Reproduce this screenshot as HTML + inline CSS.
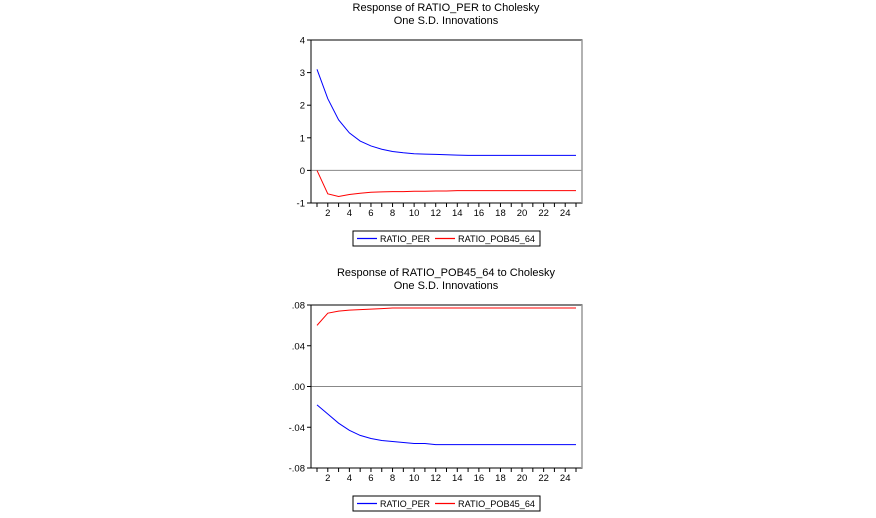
<!DOCTYPE html>
<html><head><meta charset="utf-8"><style>
body{margin:0;background:#fff;font-family:"Liberation Sans",sans-serif;}
svg{display:block}
text{font-family:"Liberation Sans",sans-serif;}
</style></head><body>
<svg id="svg" width="876" height="518"></svg>
<script>
const periods=[1,2,3,4,5,6,7,8,9,10,11,12,13,14,15,16,17,18,19,20,21,22,23,24,25];
const xTickLabels=[2,4,6,8,10,12,14,16,18,20,22,24];
const top_per=[3.1,2.2,1.55,1.15,0.9,0.75,0.65,0.58,0.54,0.51,0.5,0.49,0.48,0.47,0.46,0.46,0.46,0.46,0.46,0.46,0.46,0.46,0.46,0.46,0.46];
const top_pob=[0,-0.72,-0.8,-0.74,-0.7,-0.67,-0.66,-0.65,-0.65,-0.64,-0.64,-0.63,-0.63,-0.62,-0.62,-0.62,-0.62,-0.62,-0.62,-0.62,-0.62,-0.62,-0.62,-0.62,-0.62];
const topYTicks=[4,3,2,1,0,-1];
const topYLabels=["4","3","2","1","0","-1"];
const bot_per=[-0.018,-0.027,-0.036,-0.043,-0.048,-0.051,-0.053,-0.054,-0.055,-0.056,-0.056,-0.057,-0.057,-0.057,-0.057,-0.057,-0.057,-0.057,-0.057,-0.057,-0.057,-0.057,-0.057,-0.057,-0.057];
const bot_pob=[0.060,0.072,0.074,0.075,0.0755,0.076,0.0765,0.077,0.077,0.077,0.077,0.077,0.077,0.077,0.077,0.077,0.077,0.077,0.077,0.077,0.077,0.077,0.077,0.077,0.077];
const botYTicks=[0.08,0.04,0,-0.04,-0.08];
const botYLabels=[".08",".04",".00","-.04","-.08"];

const NS="http://www.w3.org/2000/svg";
const svg=document.getElementById('svg');
function mk(t,a,p){const e=document.createElementNS(NS,t);for(const k in a)e.setAttribute(k,a[k]);(p||svg).appendChild(e);return e;}

function panel(cfg){
  const g=mk('g',{});
  
  
  const L=311,R=582,T=cfg.top,B=cfg.bottom;
  const x=p=>317+(p-1)*(576-317)/24;
  const y=v=>T+(cfg.ymax-v)/(cfg.ymax-cfg.ymin)*(B-T);
  const t1=mk('text',{x:446,y:cfg.titleY,'text-anchor':'middle','font-size':11,fill:'#000'},g);t1.textContent=cfg.title;
  
  const t2=mk('text',{x:446,y:cfg.titleY+13,'text-anchor':'middle','font-size':11,fill:'#000'},g);t2.textContent='One S.D. Innovations';
  
  const zl=mk('line',{x1:L,x2:R,y1:y(0),y2:y(0),stroke:'#888','stroke-width':1},g);
  
  const box=mk('rect',{x:L,y:T,width:R-L,height:B-T,fill:'none',stroke:'#000','stroke-width':1},g);
  
  mk('line',{x1:R,x2:R,y1:T,y2:B,stroke:'#999','stroke-width':1.5},g);
  cfg.yt.forEach((v,i)=>{
    mk('line',{x1:L-4,x2:L,y1:y(v),y2:y(v),stroke:'#000'},g);
    const t=mk('text',{x:L-6,y:y(v)+3.5,'text-anchor':'end','font-size':9.5},g);t.textContent=cfg.yl[i];
    
  });
  periods.forEach(p=>mk('line',{x1:x(p),x2:x(p),y1:B,y2:B+4,stroke:'#000'},g));
  xTickLabels.forEach(p=>{const t=mk('text',{x:x(p),y:B+13,'text-anchor':'middle','font-size':9.5},g);t.textContent=p;
    });
  [[cfg.s1,'#0000ff','series-ratio-per'],[cfg.s2,'#ff0000','series-ratio-pob45-64']].forEach(([s,c,n])=>{
    const pl=mk('polyline',{points:s.map((v,i)=>x(periods[i])+','+y(v)).join(' '),fill:'none',stroke:c,'stroke-width':1},g);
    
  });
  const lg=mk('g',{},g);
  
  const ly=cfg.legY;
  mk('rect',{x:353,y:ly,width:187,height:15,fill:'#fff',stroke:'#000'},lg);
  mk('line',{x1:357,x2:377,y1:ly+7.5,y2:ly+7.5,stroke:'#0000ff','stroke-width':1.2},lg);
  const a=mk('text',{x:380,y:ly+11,'font-size':9,textLength:50,lengthAdjust:'spacingAndGlyphs'},lg);a.textContent='RATIO_PER';
  
  mk('line',{x1:435,x2:455,y1:ly+7.5,y2:ly+7.5,stroke:'#ff0000','stroke-width':1.2},lg);
  const b=mk('text',{x:458,y:ly+11,'font-size':9,textLength:77,lengthAdjust:'spacingAndGlyphs'},lg);b.textContent='RATIO_POB45_64';
  
}
panel({name:'top-chart',top:40,bottom:203,ymax:4,ymin:-1,yt:topYTicks,yl:topYLabels,s1:top_per,s2:top_pob,title:'Response of RATIO_PER to Cholesky',titleY:11,legY:231});
panel({name:'bottom-chart',top:305,bottom:468,ymax:0.08,ymin:-0.08,yt:botYTicks,yl:botYLabels,s1:bot_per,s2:bot_pob,title:'Response of RATIO_POB45_64 to Cholesky',titleY:276,legY:496});
</script>
</body></html>
